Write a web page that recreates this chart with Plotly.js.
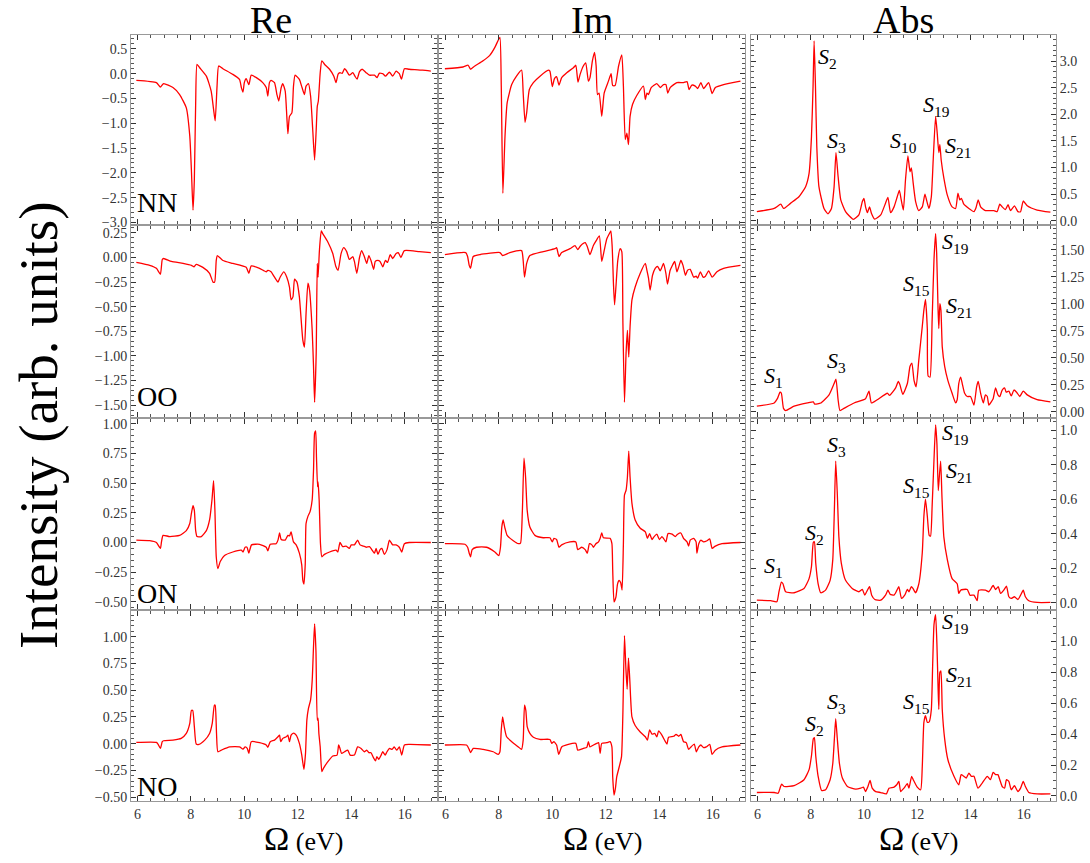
<!DOCTYPE html>
<html><head><meta charset="utf-8">
<script src="https://cdn.plot.ly/plotly-3.0.1.min.js"></script>
<style>html,body{margin:0;padding:0;background:#fff}#chart{width:1090px;height:863px}</style>
</head><body><div id="chart"></div>
<script>
// ---------------- DATA ----------------
const rowNames = ["NN","OO","ON","NO"];
const colTitles = ["Re","Im","Abs"];

// NN
const nnReE = [5.96,6.71,6.86,6.98,7.33,7.58,7.83,7.96,8.02,8.08,
8.13,8.18,8.23,8.33,8.58,8.76,8.85,8.91,8.98,9.04,
9.2,9.57,9.82,9.89,9.95,10.0,10.07,10.17,10.26,10.45,
10.69,10.82,10.88,10.94,11.0,11.13,11.22,11.29,11.38,11.44,
11.53,11.59,11.63,11.69,11.78,11.84,11.9,12.06,12.16,12.25,
12.31,12.4,12.48,12.56,12.63,12.69,12.73,12.77,12.84,12.9,
13.0,13.19,13.35,13.43,13.51,13.58,13.66,13.75,13.81,13.93,
14.06,14.14,14.22,14.31,14.41,14.56,14.68,14.87,14.97,15.05,
15.18,15.28,15.43,15.55,15.68,15.8,15.88,15.99,16.17,16.67,
16.98];
const nnReV = [-0.135,-0.18,-0.27,-0.2,-0.28,-0.42,-0.69,-1.26,-1.94,-2.75,
-2.14,-0.59,0.19,0.12,-0.05,-0.35,-0.72,-0.95,-0.25,0.155,
0.1,-0.014,-0.115,-0.28,-0.37,-0.18,-0.1,-0.22,-0.03,-0.08,
-0.18,-0.28,-0.45,-0.18,-0.135,-0.18,-0.42,-0.55,-0.28,-0.2,
-0.35,-0.86,-1.21,-0.86,-0.79,-0.25,-0.03,-0.115,-0.28,-0.42,
-0.25,-0.2,-0.45,-1.13,-1.74,-1.13,-0.66,-0.55,0.02,0.26,
0.19,0.09,-0.05,-0.18,-0.01,0.02,0.007,0.1,0.07,-0.03,
0.02,-0.05,-0.11,0.04,0.09,0.02,-0.03,-0.03,-0.08,0.007,
0.0,-0.05,0.03,-0.05,0.05,0.0,-0.11,0.1,0.09,0.07,
0.05];

const nnImE = [5.98,6.66,6.85,6.94,7.1,7.41,7.66,7.85,7.98,8.04,
8.09,8.15,8.23,8.31,8.48,8.66,8.85,8.91,8.98,9.04,
9.14,9.29,9.54,9.85,9.91,10.0,10.08,10.16,10.25,10.35,
10.54,10.79,10.88,10.96,11.04,11.16,11.25,11.35,11.41,11.5,
11.58,11.64,11.69,11.75,11.85,11.94,12.1,12.2,12.26,12.35,
12.48,12.6,12.66,12.73,12.79,12.85,12.91,13.0,13.16,13.41,
13.48,13.54,13.6,13.7,13.91,14.04,14.16,14.25,14.32,14.41,
14.66,14.91,15.04,15.12,15.22,15.35,15.44,15.56,15.66,15.85,
15.98,16.1,16.41,17.04];
const nnImV = [0.10,0.135,0.17,0.09,0.155,0.26,0.37,0.53,0.68,0.73,
-0.25,-2.41,-1.26,-0.59,-0.22,-0.05,0.07,-0.39,-0.98,-0.79,
-0.32,-0.18,-0.05,0.07,0.05,-0.26,-0.1,-0.06,-0.23,-0.08,
0.02,0.12,0.17,-0.17,-0.014,0.155,0.22,-0.15,-0.08,0.26,
0.43,0.155,-0.42,-0.39,-0.86,-0.39,-0.15,0.0,-0.24,-0.24,
0.155,0.38,-0.25,-1.33,-1.2,-1.43,-0.86,-0.62,-0.44,-0.25,
-0.52,-0.39,-0.42,-0.28,-0.2,-0.28,-0.22,-0.22,-0.39,-0.28,
-0.18,-0.18,-0.16,-0.32,-0.23,-0.25,-0.3,-0.18,-0.3,-0.18,
-0.4,-0.28,-0.22,-0.15];

const nnAbE = [5.98,6.63,6.88,6.98,7.25,7.56,7.81,7.94,8.03,8.09,
8.13,8.18,8.23,8.31,8.5,8.65,8.78,8.88,8.95,9.03,
9.13,9.31,9.6,9.81,9.94,10.0,10.06,10.13,10.21,10.28,
10.4,10.63,10.81,10.9,11.0,11.13,11.25,11.33,11.4,11.48,
11.56,11.65,11.73,11.78,11.85,11.94,12.06,12.19,12.29,12.35,
12.44,12.53,12.6,12.69,12.75,12.81,12.85,12.9,13.0,13.13,
13.31,13.44,13.53,13.6,13.66,13.75,13.94,14.13,14.21,14.29,
14.38,14.56,14.88,15.0,15.1,15.19,15.31,15.41,15.5,15.65,
15.78,15.88,15.98,16.13,16.5,17.0];
const nnAbV = [0.17,0.23,0.31,0.23,0.33,0.45,0.64,0.89,1.58,2.53,
3.38,2.53,1.4,0.64,0.23,0.13,0.23,0.64,1.28,0.83,
0.39,0.17,0.025,0.11,0.36,0.42,0.26,0.15,0.26,0.14,
0.03,0.11,0.33,0.44,0.15,0.26,0.45,0.57,0.39,0.2,
0.77,1.22,0.92,0.99,0.7,0.36,0.19,0.26,0.5,0.39,
0.23,0.45,1.14,1.96,1.65,1.28,1.43,1.14,0.8,0.48,
0.26,0.23,0.52,0.39,0.42,0.31,0.23,0.17,0.25,0.39,
0.26,0.19,0.19,0.17,0.31,0.26,0.21,0.3,0.19,0.28,
0.17,0.17,0.37,0.28,0.2,0.16];

// OO
const ooReE = [5.96,6.46,6.71,6.86,6.93,6.98,7.27,7.71,8.02,8.12,
8.2,8.45,8.7,8.83,8.89,8.95,8.99,9.2,9.57,10.07,
10.17,10.26,10.57,10.82,10.88,11.0,11.13,11.26,11.34,11.48,
11.59,11.69,11.75,11.82,11.88,11.97,12.06,12.19,12.25,12.31,
12.38,12.44,12.54,12.59,12.63,12.69,12.73,12.76,12.81,12.88,
12.94,13.12,13.31,13.43,13.51,13.62,13.72,13.83,13.93,14.06,
14.12,14.21,14.31,14.39,14.49,14.58,14.66,14.74,14.84,14.9,
14.99,15.08,15.18,15.28,15.36,15.46,15.55,15.68,15.76,15.86,
15.99,16.55,16.98];
const ooReV = [-0.05,-0.08,-0.11,-0.17,-0.02,-0.01,-0.04,-0.06,-0.08,-0.095,
-0.07,-0.1,-0.16,-0.25,-0.25,-0.03,0.02,-0.03,-0.06,-0.1,
-0.16,-0.085,-0.11,-0.145,-0.13,-0.145,-0.2,-0.25,-0.2,-0.145,
-0.2,-0.3,-0.43,-0.4,-0.22,-0.25,-0.4,-0.84,-0.91,-0.57,
-0.26,-0.33,-0.74,-1.11,-1.47,-0.97,-0.06,-0.2,0.07,0.27,
0.24,0.16,0.04,-0.095,-0.13,0.04,0.1,0.06,-0.02,0.01,
-0.04,-0.16,0.0,0.07,0.01,-0.06,0.02,-0.03,-0.12,-0.04,
-0.03,-0.04,-0.095,-0.03,-0.05,0.03,-0.01,0.04,0.05,0.0,
0.07,0.06,0.05];

const ooImE = [5.98,6.76,6.83,6.89,6.94,7.04,7.29,8.04,8.14,8.41,
8.85,8.91,8.96,9.04,9.16,9.66,10.1,10.16,10.25,10.35,
10.66,10.85,10.95,11.06,11.23,11.31,11.41,11.54,11.66,11.76,
11.85,11.94,12.04,12.13,12.19,12.24,12.29,12.33,12.38,12.45,
12.54,12.6,12.64,12.7,12.76,12.81,12.86,12.91,12.98,13.1,
13.29,13.48,13.54,13.6,13.66,13.75,13.85,13.94,14.04,14.16,
14.25,14.31,14.41,14.58,14.66,14.73,14.81,14.89,14.98,15.06,
15.16,15.29,15.38,15.44,15.54,15.64,15.73,15.85,15.98,16.16,
16.41,17.04];
const ooImV = [0.03,0.05,0.01,-0.08,-0.11,0.01,0.03,0.05,0.02,0.05,
0.07,-0.03,-0.2,-0.06,0.02,0.06,0.09,0.1,0.01,0.05,
0.09,0.12,0.08,0.12,0.15,0.11,0.03,0.125,0.18,0.22,
-0.04,0.07,0.19,0.24,0.27,0.11,-0.28,-0.48,-0.3,-0.03,
0.09,0.06,-0.64,-1.47,-0.97,-0.74,-1.01,-0.7,-0.43,-0.3,
-0.16,-0.06,-0.13,-0.21,-0.33,-0.18,-0.11,-0.09,-0.135,-0.06,
-0.16,-0.27,-0.13,-0.04,-0.145,-0.095,-0.03,-0.08,-0.18,-0.13,
-0.12,-0.2,-0.19,-0.21,-0.145,-0.2,-0.19,-0.135,-0.2,-0.145,
-0.11,-0.08];

const ooAbE = [5.98,6.63,6.75,6.85,6.9,6.98,7.06,7.38,7.88,8.1,
8.15,8.38,8.69,8.88,8.95,9.03,9.1,9.25,9.63,10.06,
10.19,10.28,10.5,10.88,10.96,11.19,11.29,11.35,11.46,11.63,
11.73,11.8,11.88,11.96,12.06,12.19,12.25,12.31,12.38,12.41,
12.48,12.56,12.63,12.69,12.73,12.78,12.81,12.85,12.89,12.94,
13.03,13.15,13.31,13.44,13.5,13.56,13.63,13.69,13.78,13.88,
14.0,14.13,14.23,14.29,14.38,14.48,14.56,14.63,14.69,14.78,
14.85,14.94,15.03,15.1,15.19,15.28,15.34,15.44,15.53,15.63,
15.73,15.85,15.98,16.13,16.5,17.0];
const ooAbV = [0.05,0.08,0.12,0.18,0.17,0.03,0.01,0.05,0.08,0.09,
0.07,0.08,0.155,0.26,0.3,0.11,0.01,0.03,0.08,0.12,
0.19,0.08,0.11,0.17,0.15,0.22,0.28,0.25,0.16,0.26,
0.42,0.45,0.29,0.23,0.48,0.79,0.94,1.04,0.76,0.33,
0.32,0.85,1.41,1.65,1.47,0.97,0.77,1.0,0.94,0.6,
0.42,0.29,0.17,0.08,0.11,0.26,0.32,0.26,0.17,0.14,
0.14,0.06,0.23,0.28,0.17,0.08,0.155,0.14,0.06,0.09,
0.12,0.22,0.155,0.14,0.2,0.22,0.18,0.19,0.145,0.2,
0.18,0.14,0.19,0.155,0.11,0.09];

// ON
const onReE = [5.96,6.46,6.71,6.86,6.9,6.96,7.21,7.58,7.83,7.96,
8.02,8.08,8.13,8.18,8.23,8.39,8.58,8.7,8.79,8.85,
8.9,8.95,9.01,9.1,9.26,9.57,9.89,9.95,10.03,10.1,
10.17,10.27,10.57,10.82,10.88,10.97,11.19,11.26,11.32,11.38,
11.53,11.63,11.69,11.75,11.84,11.94,12.06,12.15,12.19,12.23,
12.28,12.31,12.38,12.46,12.54,12.59,12.63,12.67,12.7,12.74,
12.76,12.8,12.85,12.9,13.0,13.19,13.43,13.5,13.58,13.68,
13.81,13.93,14.0,14.12,14.24,14.33,14.46,14.56,14.68,14.74,
14.87,14.93,15.0,15.08,15.15,15.24,15.34,15.43,15.55,15.68,
15.8,15.89,15.99,16.17,16.98];
const onReV = [0.02,0.015,0.0,-0.05,0.005,0.06,0.05,0.06,0.10,0.16,
0.245,0.31,0.27,0.10,0.05,0.05,0.10,0.19,0.36,0.52,
0.27,-0.12,-0.22,-0.16,-0.11,-0.08,-0.065,-0.08,-0.04,-0.04,
-0.09,-0.02,-0.015,-0.04,-0.07,-0.015,-0.01,0.02,0.08,0.025,
0.02,0.06,0.055,0.09,0.005,-0.02,-0.09,-0.19,-0.32,-0.35,
-0.18,0.16,0.22,0.26,0.36,0.61,0.92,0.94,0.72,0.47,
0.51,0.36,-0.01,-0.12,-0.1,-0.08,-0.065,-0.08,0.0,-0.035,
-0.03,-0.05,-0.02,-0.02,0.02,-0.02,-0.03,-0.04,-0.035,-0.05,
-0.09,-0.05,-0.1,-0.06,-0.05,-0.1,-0.06,0.02,-0.02,-0.02,
-0.04,-0.08,-0.01,0.0,0.0];

const onImE = [5.98,6.73,6.83,6.89,6.94,7.0,7.16,7.54,7.85,8.0,
8.06,8.11,8.16,8.23,8.31,8.54,8.73,8.81,8.88,8.94,
9.0,9.06,9.16,9.35,9.66,9.91,10.0,10.06,10.16,10.25,
10.35,10.66,10.88,10.95,11.1,11.23,11.31,11.39,11.48,11.54,
11.63,11.73,11.79,11.85,11.91,12.16,12.23,12.26,12.31,12.38,
12.44,12.5,12.56,12.61,12.66,12.7,12.76,12.81,12.86,12.91,
12.98,13.1,13.29,13.48,13.56,13.64,13.73,13.81,13.91,14.01,
14.1,14.16,14.25,14.33,14.48,14.6,14.69,14.81,14.91,15.04,
15.1,15.16,15.29,15.38,15.41,15.48,15.56,15.66,15.79,15.89,
15.98,16.1,16.35,17.04];
const onImV = [-0.01,-0.015,-0.04,-0.09,-0.12,-0.06,-0.04,-0.04,-0.08,-0.11,
-0.04,0.13,0.19,0.12,0.06,0.015,-0.01,-0.005,0.27,0.71,
0.55,0.27,0.13,0.06,0.04,0.04,0.005,0.035,0.025,-0.04,
-0.02,0.005,0.005,-0.06,-0.04,-0.06,-0.09,-0.01,-0.02,-0.04,
-0.01,0.005,0.035,0.08,0.04,0.035,-0.01,-0.23,-0.5,-0.46,
-0.35,-0.32,-0.34,-0.4,-0.01,0.4,0.44,0.55,0.77,0.55,
0.33,0.19,0.12,0.09,0.035,0.075,0.025,0.05,0.07,0.025,
0.05,0.035,0.005,0.075,0.07,0.05,0.07,0.08,0.035,0.005,
-0.03,0.02,0.035,0.005,-0.09,-0.01,0.02,0.005,0.015,0.03,
-0.05,-0.03,-0.01,0.0];

const onAbE = [5.98,6.5,6.73,6.81,6.9,6.96,7.06,7.38,7.75,7.94,
8.03,8.1,8.14,8.19,8.28,8.38,8.56,8.73,8.83,8.89,
8.94,9.0,9.06,9.15,9.31,9.56,9.81,9.94,10.03,10.1,
10.21,10.29,10.41,10.63,10.81,10.9,10.98,11.13,11.23,11.31,
11.41,11.53,11.63,11.69,11.78,11.84,11.94,12.06,12.19,12.25,
12.31,12.38,12.45,12.5,12.56,12.63,12.69,12.74,12.79,12.83,
12.88,12.93,13.0,13.13,13.31,13.5,13.56,13.63,13.73,13.88,
13.98,14.13,14.25,14.31,14.56,14.69,14.85,14.94,15.04,15.13,
15.25,15.35,15.44,15.53,15.65,15.78,15.88,15.98,16.06,16.19,
16.5,17.0];
const onAbV = [0.015,0.012,0.006,0.064,0.12,0.11,0.064,0.058,0.083,0.14,
0.21,0.35,0.353,0.23,0.11,0.058,0.073,0.13,0.25,0.54,
0.82,0.63,0.38,0.23,0.13,0.083,0.064,0.077,0.044,0.064,
0.093,0.044,0.019,0.015,0.044,0.073,0.05,0.044,0.07,0.093,
0.025,0.044,0.077,0.064,0.093,0.083,0.058,0.11,0.29,0.5,
0.6,0.5,0.39,0.386,0.56,0.83,1.03,0.92,0.65,0.73,
0.82,0.61,0.38,0.25,0.14,0.11,0.054,0.073,0.077,0.077,
0.044,0.044,0.012,0.073,0.073,0.064,0.1,0.077,0.093,0.054,
0.073,0.097,0.035,0.025,0.035,0.019,0.044,0.073,0.035,0.012,
0.002,0.002];

// NO
const noReE = [5.96,6.71,6.77,6.86,6.93,6.98,7.33,7.64,7.83,7.96,
8.02,8.07,8.13,8.2,8.3,8.52,8.7,8.8,8.88,8.91,
8.96,9.01,9.14,9.45,9.82,9.95,10.03,10.11,10.17,10.26,
10.57,10.82,10.88,10.97,11.13,11.26,11.32,11.36,11.44,11.57,
11.63,11.69,11.75,11.84,11.94,12.06,12.15,12.23,12.29,12.34,
12.4,12.48,12.54,12.59,12.63,12.68,12.73,12.76,12.79,12.84,
12.9,12.96,13.12,13.31,13.47,13.53,13.58,13.64,13.75,13.87,
13.96,14.12,14.24,14.37,14.49,14.58,14.66,14.74,14.83,14.91,
14.96,15.03,15.12,15.18,15.27,15.34,15.43,15.53,15.61,15.7,
15.8,15.89,15.99,16.17,16.98];
const noReV = [0.012,0.012,-0.003,-0.044,0.019,0.028,0.034,0.05,0.096,0.19,
0.31,0.31,0.16,-0.003,-0.006,0.034,0.096,0.19,0.36,0.36,
0.096,-0.075,-0.06,-0.03,-0.03,-0.05,-0.03,-0.044,-0.09,0.019,
0.01,-0.012,-0.034,0.019,0.034,0.065,0.08,0.019,0.05,0.065,
0.08,0.019,0.08,0.1,0.08,0.003,-0.106,-0.24,-0.09,0.22,
0.33,0.41,0.59,0.91,1.12,0.87,0.22,0.24,0.096,-0.03,
-0.26,-0.23,-0.17,-0.115,-0.106,-0.012,-0.044,-0.09,-0.075,-0.06,
-0.106,-0.106,-0.03,-0.044,-0.075,-0.06,-0.084,-0.084,-0.13,-0.16,
-0.12,-0.146,-0.106,-0.075,-0.106,-0.075,-0.044,-0.053,-0.03,-0.06,
-0.03,-0.106,-0.012,-0.006,-0.012];

const noImE = [5.98,6.79,6.89,6.94,7.04,7.41,7.79,7.98,8.04,8.09,
8.14,8.2,8.29,8.48,8.73,8.85,8.91,8.96,9.01,9.06,
9.16,9.29,9.54,9.91,9.98,10.06,10.16,10.24,10.35,10.6,
10.88,10.95,11.16,11.29,11.35,11.41,11.54,11.66,11.73,11.79,
11.85,12.04,12.16,12.23,12.26,12.31,12.36,12.41,12.51,12.59,
12.64,12.7,12.75,12.8,12.85,12.9,12.98,13.1,13.29,13.48,
13.56,13.64,13.73,13.83,13.91,13.98,14.1,14.23,14.29,14.35,
14.54,14.63,14.73,14.81,14.91,15.01,15.1,15.19,15.31,15.39,
15.48,15.56,15.66,15.76,15.89,15.98,16.1,16.35,17.04];
const noImV = [-0.012,-0.012,-0.053,-0.084,-0.044,-0.053,-0.075,-0.1,-0.075,0.13,
0.25,0.16,0.065,0.019,-0.03,-0.053,0.034,0.36,0.31,0.16,
0.096,0.06,0.04,0.04,0.003,0.019,-0.012,-0.1,-0.03,-0.006,
0.003,-0.06,-0.044,-0.034,0.019,-0.03,-0.012,0.003,0.01,-0.09,
0.003,0.01,0.019,-0.03,-0.31,-0.48,-0.42,-0.31,-0.21,-0.12,
0.28,1.01,0.72,0.51,0.8,0.59,0.25,0.17,0.11,0.065,
0.034,0.13,0.09,0.096,0.065,0.12,0.08,0.019,-0.003,0.06,
0.07,0.087,0.07,0.087,0.019,0.01,-0.053,-0.03,-0.003,-0.075,
-0.03,-0.012,-0.037,-0.03,-0.006,-0.1,-0.06,-0.03,-0.012];

const noAbE = [5.98,6.63,6.78,6.85,6.91,7.0,7.38,7.75,7.94,8.03,
8.1,8.14,8.19,8.28,8.41,8.56,8.73,8.83,8.89,8.94,
9.0,9.08,9.19,9.38,9.69,9.88,9.98,10.06,10.15,10.23,
10.31,10.44,10.63,10.84,10.94,11.13,11.23,11.31,11.38,11.5,
11.63,11.69,11.79,11.85,12.0,12.13,12.19,12.25,12.31,12.38,
12.45,12.53,12.58,12.63,12.69,12.74,12.78,12.81,12.85,12.89,
12.94,13.03,13.15,13.38,13.56,13.65,13.75,13.84,13.94,14.03,
14.13,14.28,14.44,14.63,14.75,14.85,14.94,15.03,15.1,15.19,
15.28,15.35,15.44,15.53,15.65,15.78,15.88,15.98,16.06,16.19,
16.5,17.0];
const noAbV = [0.022,0.022,0.017,0.05,0.076,0.061,0.066,0.105,0.17,0.26,
0.37,0.378,0.26,0.127,0.035,0.04,0.105,0.21,0.37,0.5,
0.37,0.21,0.116,0.061,0.044,0.05,0.057,0.028,0.061,0.1,
0.05,0.028,0.022,0.013,0.05,0.057,0.072,0.094,0.028,0.05,
0.079,0.05,0.127,0.105,0.057,0.04,0.19,0.476,0.52,0.476,
0.48,0.56,0.85,1.11,1.175,0.98,0.72,0.56,0.8,0.81,
0.56,0.37,0.236,0.127,0.072,0.138,0.127,0.116,0.148,0.127,
0.127,0.05,0.083,0.127,0.105,0.153,0.138,0.138,0.105,0.061,
0.05,0.105,0.094,0.04,0.066,0.028,0.05,0.094,0.061,0.022,
0.013,0.013];

// peak labels in the Abs panels: [row, label subscript, x (eV), y]
const peakRow = [0,0,0,0,0, 1,1,1,1,1, 2,2,2,2,2,2, 3,3,3,3,3];
const peakSub = ["2","3","10","19","21", "1","3","15","19","21", "1","2","3","15","19","21", "2","3","15","19","21"];
const peakX = [8.63,8.97,11.48,12.72,13.54, 6.61,8.97,11.96,13.43,13.55, 6.61,8.15,8.97,11.96,13.43,13.55, 8.15,8.97,11.96,13.43,13.55];
const peakY = [3.05,1.48,1.48,2.16,1.39, 0.32,0.46,1.175,1.56,0.97, 0.21,0.40,0.91,0.67,0.98,0.755, 0.46,0.60,0.60,1.12,0.78];

// ---------------- BUILD ----------------
const series = [
  [[nnReE,nnReV],[nnImE,nnImV],[nnAbE,nnAbV]],
  [[ooReE,ooReV],[ooImE,ooImV],[ooAbE,ooAbV]],
  [[onReE,onReV],[onImE,onImV],[onAbE,onAbV]],
  [[noReE,noReV],[noImE,noImV],[noAbE,noAbV]]
];
const W = 1090, H = 863;
const colPx = [[131,437],[439,745],[751,1056]];
const rowPx = [[35,224],[226,417],[419,609],[611,801]];
const leftY = [
  {range:[-3.03,0.78], dtick:0.5, minor:0.1, fmt:'.1f'},
  {range:[-1.62,0.32], dtick:0.25, minor:0.05, fmt:'.2f'},
  {range:[-0.56,1.04], dtick:0.25, minor:0.05, fmt:'.2f'},
  {range:[-0.535,1.24], dtick:0.25, minor:0.05, fmt:'.2f'}
];
const rightY = [
  {range:[-0.062,3.49], dtick:0.5, minor:0.1, fmt:'.1f'},
  {range:[-0.05,1.72], dtick:0.25, minor:0.05, fmt:'.2f'},
  {range:[-0.036,1.064], dtick:0.2, minor:0.05, fmt:'.1f'},
  {range:[-0.033,1.198], dtick:0.2, minor:0.05, fmt:'.1f'}
];
const serif = 'Liberation Serif';
const tickFont = {family:serif, size:14, color:'#333'};

const traces = [];
const layout = {
  width: W, height: H, margin:{l:0,r:0,t:0,b:0},
  paper_bgcolor:'#fff', plot_bgcolor:'#fff', showlegend:false,
  font:{family:serif},
  annotations: []
};
function id(n){ return n===1 ? '' : String(n); }

for (let r=0;r<4;r++){
  for (let c=0;c<3;c++){
    const n = r*3+c+1;
    const [ex, vy] = series[r][c];
    traces.push({x:ex, y:vy, xaxis:'x'+id(n), yaxis:'y'+id(n), type:'scatter', mode:'lines',
      line:{color:'#ff0000', width:1.3, shape:'spline', smoothing:0.5}, hoverinfo:'skip'});
    layout['xaxis'+id(n)] = {
      domain:[colPx[c][0]/W, colPx[c][1]/W], anchor:'y'+id(n), range:[5.76,17.21],
      tick0:6, dtick:2, ticks:'inside', ticklen:5, tickcolor:'#333', tickwidth:1,
      minor:{dtick:0.5, ticks:'inside', ticklen:3, tickcolor:'#555'},
      showline:true, linecolor:'#999', linewidth:1, mirror:'ticks',
      showgrid:false, zeroline:false, showticklabels: r===3, tickfont:tickFont
    };
    const cfg = c===2 ? rightY[r] : leftY[r];
    layout['yaxis'+id(n)] = {
      domain:[1-rowPx[r][1]/H, 1-rowPx[r][0]/H], anchor:'x'+id(n), range:cfg.range,
      tick0:0, dtick:cfg.dtick, tickformat:cfg.fmt, ticks:'inside', ticklen:5, tickcolor:'#333', tickwidth:1,
      minor:{dtick:cfg.minor, ticks:'inside', ticklen:3, tickcolor:'#555'},
      showline:true, linecolor:'#999', linewidth:1, mirror:'ticks',
      showgrid:false, zeroline:false, showticklabels: c!==1, side: c===2 ? 'right':'left',
      tickfont:tickFont
    };
  }
  // panel label
  layout.annotations.push({text:rowNames[r], xref:'paper', yref:'paper', x:135/W,
    y:1-[203,396,593,786][r]/H, xanchor:'left', yanchor:'middle', showarrow:false,
    font:{family:serif, size:28, color:'#000'}});
}
// peak labels
for (let i=0;i<peakRow.length;i++){
  const n = peakRow[i]*3+3;
  layout.annotations.push({text:'<i>S</i><sub>'+peakSub[i]+'</sub>', xref:'x'+id(n), yref:'y'+id(n),
    x:peakX[i], y:peakY[i], xanchor:'center', yanchor:'middle', showarrow:false,
    font:{family:serif, size:22, color:'#000'}});
}
// column titles
const titleX = [271, 592, 903];
const xlabX = [303, 603, 918];
for (let c=0;c<3;c++){
  layout.annotations.push({text:colTitles[c], xref:'paper', yref:'paper', x:titleX[c]/W, y:1-20/H,
    xanchor:'center', yanchor:'middle', showarrow:false, font:{family:serif, size:38, color:'#000'}});
  layout.annotations.push({text:'<span style="font-size:34px">Ω</span> (eV)', xref:'paper', yref:'paper',
    x:xlabX[c]/W, y:1-838/H, xanchor:'center', yanchor:'middle', showarrow:false,
    font:{family:serif, size:26, color:'#000'}});
}
layout.annotations.push({text:'Intensity (arb. units)', xref:'paper', yref:'paper', x:38/W, y:1-425/H,
  xanchor:'center', yanchor:'middle', textangle:-90, showarrow:false,
  font:{family:serif, size:55, color:'#000'}});

Plotly.newPlot('chart', traces, layout, {staticPlot:true, displayModeBar:false});
</script>
</body></html>
